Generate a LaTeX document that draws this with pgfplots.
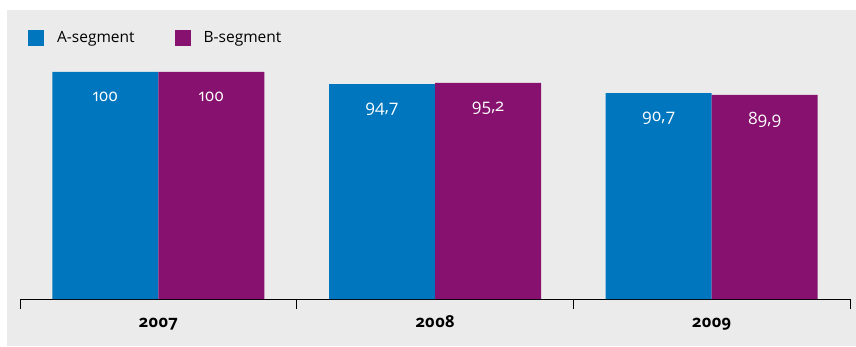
\documentclass[border=0pt]{standalone}
\usepackage{pgfplots}
\pgfplotsset{compat=1.18}
\usepackage{fontspec}
\setmainfont{Open Sans}[Numbers=OldStyle]
\definecolor{segA}{RGB}{0,118,190}
\definecolor{segB}{RGB}{134,17,110}
\definecolor{bg}{RGB}{235,235,235}
\begin{document}
\begin{tikzpicture}[x=1pt,y=1pt]
\fill[white] (0,0) rectangle (856,346);
\fill[bg] (7,0) rectangle (856,336);
\begin{axis}[
  at={(20pt,47pt)}, anchor=south west,
  scale only axis, width=830pt, height=289pt,
  xmin=-0.5, xmax=2.5, ymin=0, ymax=127.3,
  axis y line=none, axis x line*=bottom,
  axis line style={black, line width=0.8pt},
  xtick={-0.5,0.5,1.5,2.5}, xticklabels={},
  tick align=outside, major tick length=10pt,
  tick style={black, line width=0.8pt},
  extra x ticks={0,1,2}, extra x tick labels={2007,2008,2009},
  extra x tick style={major tick length=0pt,
    xticklabel style={anchor=base, yshift=-28pt, font=\fontsize{16.5}{16.5}\selectfont\bfseries}},
  ybar=0pt, bar width=106pt,
  enlargelimits=false, clip=false,
  nodes near coords, point meta=explicit symbolic,
  every node near coord/.append style={white, font=\fontsize{17}{17}\selectfont, anchor=center, yshift=-25pt},
  legend columns=2,
  legend style={at={(axis description cs:0.0096,0.903)}, anchor=west, draw=none, fill=none,
    inner sep=0pt, nodes={inner sep=0pt, font=\fontsize{15.5}{15.5}\selectfont},
    /tikz/every odd column/.append style={column sep=13pt},
    /tikz/every even column/.append style={column sep=40pt}},
  legend image code/.code={\fill[#1] (0pt,-8pt) rectangle (16pt,8pt);},
]
\addplot[fill=segA, draw=none] coordinates {(0,100) [100] (1,94.7) [94,7] (2,90.7) [90,7]};
\addplot[fill=segB, draw=none] coordinates {(0,100) [100] (1,95.2) [95,2] (2,89.9) [89,9]};
\legend{A-segment, B-segment}
\end{axis}
\end{tikzpicture}
\end{document}
